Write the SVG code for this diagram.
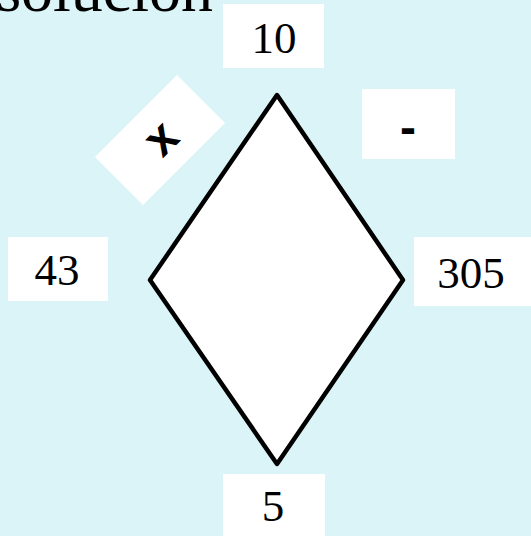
<svg xmlns="http://www.w3.org/2000/svg" width="531" height="536" viewBox="0 0 531 536">
<style>
.box{fill:#ffffff;stroke:none}
.num{font-family:"Liberation Serif","Times New Roman",serif;font-size:45px;fill:#000;text-anchor:middle}
.op{font-family:"Liberation Sans",Arial,sans-serif;font-weight:bold;font-size:48px;fill:#000;text-anchor:middle}
.shape{fill:#ffffff;stroke:#000;stroke-width:4.5;stroke-linejoin:round}
</style>
<rect x="0" y="0" width="531" height="536" fill="#daf4f8"/>
<text x="213" y="11" font-family="'Liberation Serif','Times New Roman',serif" font-size="64" text-anchor="end" fill="#000">solución</text>
<g id="connectors">
<polygon class="shape" points="277,95 403,280 277,464 150,280"/>
</g>
<g id="node-top">
<rect class="box" x="223" y="4" width="101" height="64"/>
<text class="num" x="274" y="53">10</text>
</g>
<g id="node-left">
<rect class="box" x="8" y="237" width="100" height="64"/>
<text class="num" x="57" y="285">43</text>
</g>
<g id="node-right">
<rect class="box" x="414" y="237" width="117" height="69"/>
<text class="num" x="471" y="288">305</text>
</g>
<g id="node-bottom">
<rect class="box" x="223" y="474" width="102" height="62"/>
<text class="num" x="273" y="521">5</text>
</g>
<g id="node-times" transform="translate(160,140) rotate(-45)">
<rect class="box" x="-58" y="-34" width="116" height="68"/>
<text class="op" x="2" y="15">x</text>
</g>
<g id="node-minus">
<rect class="box" x="362" y="89" width="93" height="70"/>
<text class="op" x="408" y="144">-</text>
</g>
</svg>
